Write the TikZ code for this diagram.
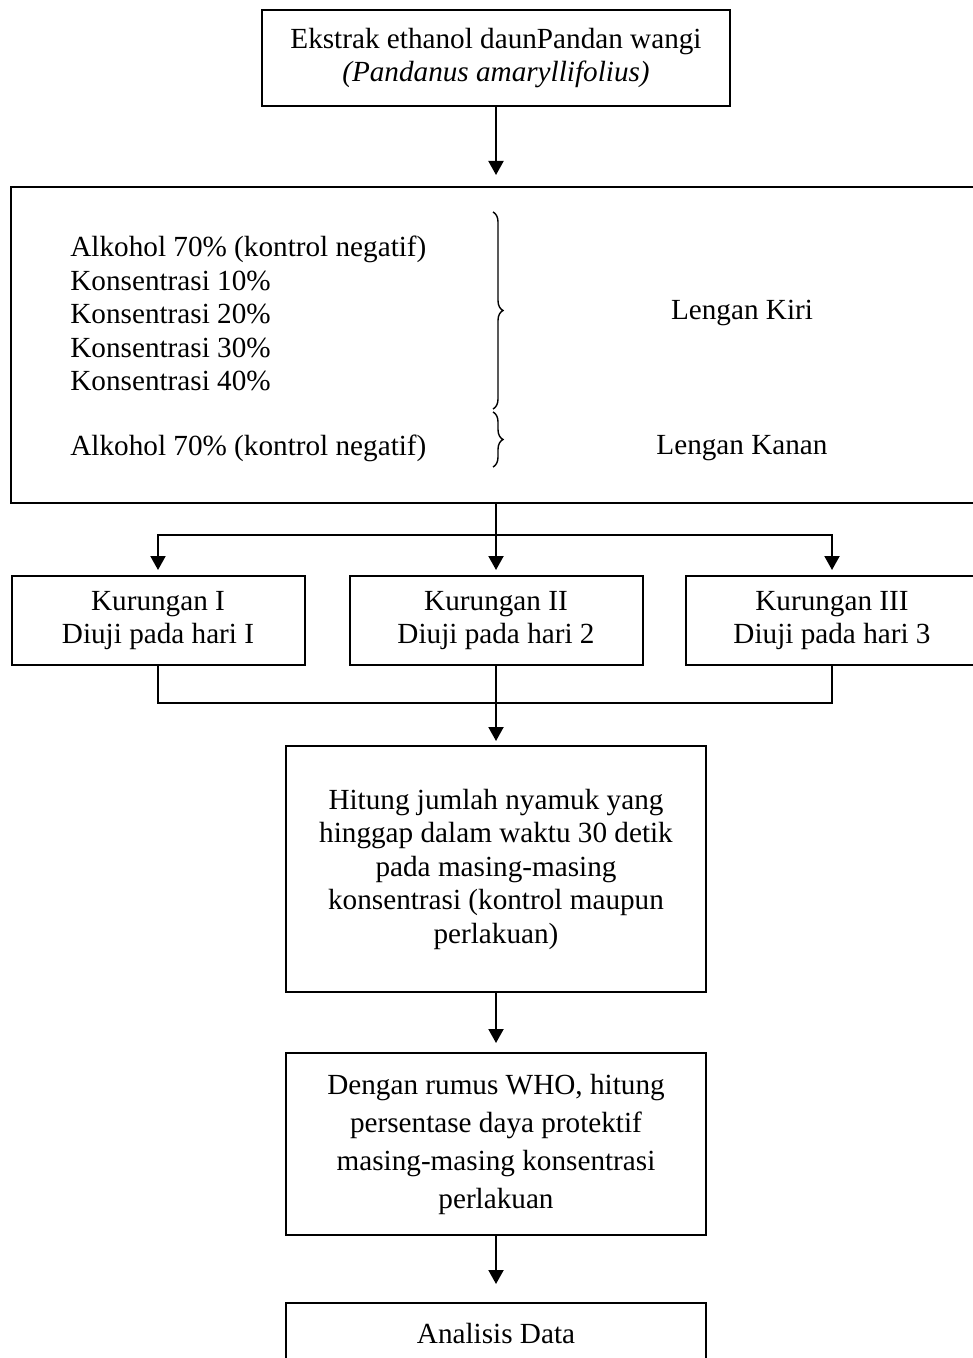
\documentclass[tikz,border=0pt]{standalone}
\usepackage{fontspec}
\setmainfont{Liberation Serif}
\usetikzlibrary{arrows.meta,positioning,decorations.pathreplacing}

\begin{document}
\begin{tikzpicture}[
        x=0.5pt, y=-0.5pt,
        font=\fontsize{14.6}{16.75}\selectfont,
        box/.style={rectangle, draw=black, line width=1pt, align=center,
                    inner sep=0pt, outer sep=0pt},
        cage/.style={box, minimum width=146.5pt, minimum height=44.5pt},
        flow/.style={-{Triangle[length=7pt,width=7.5pt]}, line width=1pt},
        link/.style={line width=1pt},
        brc/.style={decorate, decoration={brace, amplitude=5pt}, line width=0.7pt}
    ]
    \useasboundingbox (0,0) rectangle (973,1358);
    \clip (0,0) rectangle (973,1358);

    % Extract
    \node[box, minimum width=234pt, minimum height=48pt] (ekstrak) at (496,58)
        {Ekstrak ethanol daunPandan wangi\\\textit{(Pandanus amaryllifolius)}};

    % Treatment panel
    \node[box, minimum width=485pt, minimum height=158pt, below=40.5pt of ekstrak] (panel) {};
    \node[anchor=west, align=left, inner sep=0pt] (kiri) at (70,313.5)
        {Alkohol 70\% (kontrol negatif)\\
         Konsentrasi 10\%\\
         Konsentrasi 20\%\\
         Konsentrasi 30\%\\
         Konsentrasi 40\%};
    \node[anchor=west, align=left, inner sep=0pt] (kanan) at (70,448)
        {Alkohol 70\% (kontrol negatif)};
    \coordinate (kiri top) at (493,212);
    \coordinate (kiri bot) at (493,409);
    \coordinate (kanan top) at (493,412);
    \coordinate (kanan bot) at (493,467);
    \draw[brc] (kiri top) -- (kiri bot);
    \draw[brc] (kanan top) -- (kanan bot);
    \node (lkiri) at (742,313) {Lengan Kiri};
    \node (lkanan) at (742,448) {Lengan Kanan};

    % Cages
    \node[cage, below=36.5pt of panel] (k2) {Kurungan II\\Diuji pada hari 2};
    \node[cage, left=22.5pt of k2] (k1) {Kurungan I\\Diuji pada hari I};
    \node[cage, right=21.5pt of k2] (k3) {Kurungan III\\Diuji pada hari 3};

    % Counting and analysis
    \node[box, minimum width=210pt, minimum height=123pt, below=40.5pt of k2] (hitung)
        {Hitung jumlah nyamuk yang\\
         hinggap dalam waktu 30 detik\\
         pada masing-masing\\
         konsentrasi (kontrol maupun\\
         perlakuan)};
    \node[box, minimum width=210pt, minimum height=91pt, below=30.5pt of hitung,
          font=\fontsize{14.6}{19}\selectfont] (who)
        {Dengan rumus WHO, hitung\\
         persentase daya protektif\\
         masing-masing konsentrasi\\
         perlakuan};
    \node[box, minimum width=210pt, minimum height=30pt, below=34pt of who] (analisis)
        {Analisis Data};

    % Connections
    \draw[flow, shorten >=6pt] (ekstrak) -- (ekstrak |- panel.north);
    \draw[link] (panel.south) -- ++(0,-16pt) coordinate (fork);
    \draw[flow, shorten >=3pt] (fork) -| (k1);
    \draw[flow, shorten >=3pt] (fork) -- (k2);
    \draw[flow, shorten >=3pt] (fork) -| (k3);
    \draw[link] (k1.south) -- ++(0,-19pt) -| (k3.south);
    \draw[flow, shorten >=2.5pt] (k2) -- (hitung);
    \draw[flow, shorten >=5pt] (hitung) -- (who);
    \draw[flow, shorten >=9.5pt] (who) -- (analisis);

\end{tikzpicture}
\end{document}
